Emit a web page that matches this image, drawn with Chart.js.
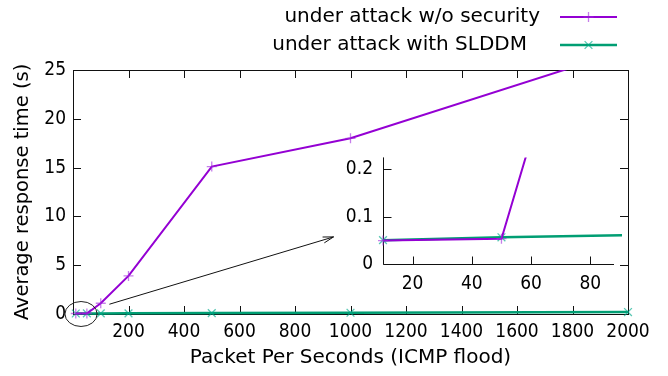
<!DOCTYPE html>
<html>
<head>
<meta charset="utf-8">
<script src="https://cdn.jsdelivr.net/npm/chart.js@4/dist/chart.umd.min.js"></script>
<style>
  html, body { margin: 0; padding: 0; background: #fff; }
  #wrap { position: relative; width: 668px; height: 376px; overflow: hidden; }
  #main { position: absolute; left: 0; top: 0; }
  #inset { position: absolute; left: 330px; top: 136px; }
</style>
</head>
<body>
<div id="wrap">
  <canvas id="main" width="668" height="376"></canvas>
  <canvas id="inset" width="300" height="170"></canvas>
</div>
<script>
// Packet rates (packets per second) at which the response time was measured
const packetRates = [10, 50, 100, 200, 500, 1000, 2000];
// Average response time in seconds
const noSecurity = [0.050, 0.054, 1.1, 3.9, 15.1, 18.0, 27.1];
const withSLDDM  = [0.051, 0.057, 0.062, 0.07, 0.09, 0.13, 0.2];
const seriesNames = ['under attack w/o security', 'under attack with SLDDM'];

// Axis ranges and tick steps
const mainXRange = [0, 2000], mainXStep = 200;
const mainYRange = [0, 25],   mainYStep = 5;
const insetXRange = [10, 88], insetXStep = 20;
const insetYRange = [0, 0.225], insetYStep = 0.1;

// Zoom marker around the origin and the arrow pointing to the inset (data units)
const zoomEllipse = { x: 29, y: 0, rx: 58, ry: 1.28 };
const zoomArrow = { from: [131, 1.0], to: [939, 7.9] };

const PURPLE = '#9400d3';
const GREEN = '#009e73';
const PURPLE_PT = 'rgba(160, 40, 220, 0.6)';
const GREEN_PT = 'rgba(0, 170, 140, 0.65)';
const TEXT_FONT = '"DejaVu Sans", "Liberation Sans", sans-serif';
const TICK_FONT = '"DejaVu Sans Condensed", "DejaVu Sans", sans-serif';

Chart.defaults.color = '#000';
Chart.defaults.font.family = TEXT_FONT;

function points(ys) {
  return packetRates.map((x, i) => ({ x: x, y: ys[i] }));
}

function makeDatasets() {
  return [
    {
      label: seriesNames[0], data: points(noSecurity),
      borderColor: PURPLE, borderWidth: 2,
      pointStyle: 'cross', pointRadius: 5, pointBorderWidth: 1.3,
      pointBorderColor: PURPLE_PT, pointBackgroundColor: PURPLE_PT,
      clip: { left: 8, top: 0, right: 8, bottom: 8 }
    },
    {
      label: seriesNames[1], data: points(withSLDDM),
      borderColor: GREEN, borderWidth: 2.5,
      pointStyle: 'crossRot', pointRadius: 5.5, pointBorderWidth: 1.3,
      pointBorderColor: GREEN_PT, pointBackgroundColor: GREEN_PT,
      clip: { left: 8, top: 0, right: 8, bottom: 8 }
    }
  ];
}

function drawMarker(ctx, style, x, y, r, color) {
  ctx.save();
  ctx.strokeStyle = color;
  ctx.lineWidth = 1.3;
  ctx.beginPath();
  if (style === 'cross') {
    ctx.moveTo(x - r, y); ctx.lineTo(x + r, y);
    ctx.moveTo(x, y - r); ctx.lineTo(x, y + r);
  } else {
    const d = r * Math.SQRT1_2;
    ctx.moveTo(x - d, y - d); ctx.lineTo(x + d, y + d);
    ctx.moveTo(x - d, y + d); ctx.lineTo(x + d, y - d);
  }
  ctx.stroke();
  ctx.restore();
}

// Full gnuplot-style border with inward ticks on all four sides
const boxFrame = {
  id: 'boxFrame',
  beforeDatasetsDraw(chart) {
    const { ctx, chartArea: a, scales: { x, y } } = chart;
    ctx.save();
    ctx.strokeStyle = '#111';
    ctx.lineWidth = 1;
    ctx.strokeRect(Math.round(a.left) + 0.5, Math.round(a.top) + 0.5,
                   Math.round(a.right - a.left), Math.round(a.bottom - a.top));
    ctx.beginPath();
    x.ticks.forEach(t => {
      const px = Math.round(x.getPixelForValue(t.value)) + 0.5;
      ctx.moveTo(px, a.bottom); ctx.lineTo(px, a.bottom - 8);
      ctx.moveTo(px, a.top); ctx.lineTo(px, a.top + 8);
    });
    y.ticks.forEach(t => {
      const py = Math.round(y.getPixelForValue(t.value)) + 0.5;
      ctx.moveTo(a.left, py); ctx.lineTo(a.left + 8, py);
      ctx.moveTo(a.right, py); ctx.lineTo(a.right - 8, py);
    });
    ctx.stroke();
    ctx.restore();
  }
};

// Key in the top margin, ellipse around the origin and arrow towards the inset
const mainExtras = {
  id: 'mainExtras',
  afterDraw(chart) {
    const { ctx, scales: { x, y } } = chart;
    ctx.save();
    // key: text right-justified, sample line to its right
    ctx.font = '20px ' + TEXT_FONT;
    ctx.textAlign = 'right';
    ctx.textBaseline = 'middle';
    ctx.fillStyle = '#000';
    const rows = [{ y: 17, textEnd: 540 }, { y: 45, textEnd: 527 }];
    chart.data.datasets.forEach((ds, i) => {
      const row = rows[i];
      ctx.fillText(ds.label, row.textEnd, row.y);
      ctx.strokeStyle = ds.borderColor;
      ctx.lineWidth = ds.borderWidth;
      ctx.beginPath();
      ctx.moveTo(560, row.y); ctx.lineTo(617, row.y);
      ctx.stroke();
      drawMarker(ctx, ds.pointStyle, 588.5, row.y, ds.pointRadius, ds.pointBorderColor);
    });

    // ellipse
    const cx = x.getPixelForValue(zoomEllipse.x);
    const cy = y.getPixelForValue(zoomEllipse.y);
    const rx = x.getPixelForValue(zoomEllipse.x + zoomEllipse.rx) - cx;
    const ryy = cy - y.getPixelForValue(zoomEllipse.y + zoomEllipse.ry);
    ctx.strokeStyle = '#222';
    ctx.lineWidth = 1;
    ctx.beginPath();
    ctx.ellipse(cx, cy, rx, ryy, 0, 0, Math.PI * 2);
    ctx.stroke();

    // arrow
    const x0 = x.getPixelForValue(zoomArrow.from[0]), y0 = y.getPixelForValue(zoomArrow.from[1]);
    const x1 = x.getPixelForValue(zoomArrow.to[0]), y1 = y.getPixelForValue(zoomArrow.to[1]);
    const ang = Math.atan2(y1 - y0, x1 - x0);
    ctx.strokeStyle = '#111';
    ctx.beginPath();
    ctx.moveTo(x0, y0); ctx.lineTo(x1, y1);
    const hl = 11, ha = 0.28;
    ctx.moveTo(x1 - hl * Math.cos(ang - ha), y1 - hl * Math.sin(ang - ha));
    ctx.lineTo(x1, y1);
    ctx.lineTo(x1 - hl * Math.cos(ang + ha), y1 - hl * Math.sin(ang + ha));
    ctx.stroke();
    ctx.restore();
  }
};

// Inset axes: only left and bottom lines, with inward ticks
const insetFrame = {
  id: 'insetFrame',
  beforeDatasetsDraw(chart) {
    const { ctx, chartArea: a, scales: { x, y } } = chart;
    const L = Math.round(a.left) + 0.5, B = Math.round(a.bottom) + 0.5;
    ctx.save();
    ctx.strokeStyle = '#111';
    ctx.lineWidth = 1;
    ctx.beginPath();
    ctx.moveTo(L, a.top); ctx.lineTo(L, B); ctx.lineTo(a.right, B);
    x.ticks.forEach(t => {
      const px = Math.round(x.getPixelForValue(t.value)) + 0.5;
      ctx.moveTo(px, B); ctx.lineTo(px, B - 8);
    });
    y.ticks.forEach(t => {
      const py = Math.round(y.getPixelForValue(t.value)) + 0.5;
      ctx.moveTo(L, py); ctx.lineTo(L + 8, py);
    });
    ctx.stroke();
    ctx.restore();
  }
};

const tickFont = { family: TICK_FONT, size: 19 };

new Chart(document.getElementById('main'), {
  type: 'line',
  data: { datasets: makeDatasets() },
  options: {
    responsive: false,
    animation: false,
    events: [],
    layout: { padding: { top: 70, right: 40, left: 0, bottom: 0 } },
    plugins: { legend: { display: false }, tooltip: { enabled: false } },
    elements: { line: { tension: 0 } },
    scales: {
      x: {
        type: 'linear', min: mainXRange[0], max: mainXRange[1],
        grid: { display: false, drawTicks: false }, border: { display: false },
        ticks: {
          stepSize: mainXStep, padding: 7, font: tickFont, autoSkip: false, maxRotation: 0,
          callback: v => (v === 0 ? '' : String(v))
        },
        title: { display: true, text: 'Packet Per Seconds (ICMP flood)',
                 font: { size: 20 }, padding: { top: 0, bottom: 6 } },
        afterFit: s => { s.height = 62; }
      },
      y: {
        type: 'linear', min: mainYRange[0], max: mainYRange[1],
        grid: { display: false, drawTicks: false }, border: { display: false },
        ticks: { stepSize: mainYStep, padding: 7, font: tickFont },
        title: { display: true, text: 'Average response time (s)',
                 font: { size: 19.5 }, padding: { top: 11, bottom: 0 } },
        afterFit: s => { s.width = 73; }
      }
    }
  },
  plugins: [boxFrame, mainExtras]
});

new Chart(document.getElementById('inset'), {
  type: 'line',
  data: { datasets: makeDatasets() },
  options: {
    responsive: false,
    animation: false,
    events: [],
    layout: { padding: { top: 10, right: 16, left: 0, bottom: 0 } },
    plugins: { legend: { display: false }, tooltip: { enabled: false } },
    elements: { line: { tension: 0 } },
    scales: {
      x: {
        type: 'linear', min: insetXRange[0], max: insetXRange[1],
        grid: { display: false, drawTicks: false }, border: { display: false },
        ticks: { stepSize: insetXStep, includeBounds: false, padding: 8, font: tickFont,
                 autoSkip: false, maxRotation: 0 },
        afterFit: s => { s.height = 41.6; }
      },
      y: {
        type: 'linear', min: insetYRange[0], max: insetYRange[1],
        grid: { display: false, drawTicks: false }, border: { display: false },
        ticks: { stepSize: insetYStep, includeBounds: false, padding: 10, font: tickFont,
                 callback: v => (v === 0 ? '0' : v.toFixed(1)) },
        afterFit: s => { s.width = 53; }
      }
    }
  },
  plugins: [insetFrame]
});
</script>
</body>
</html>
